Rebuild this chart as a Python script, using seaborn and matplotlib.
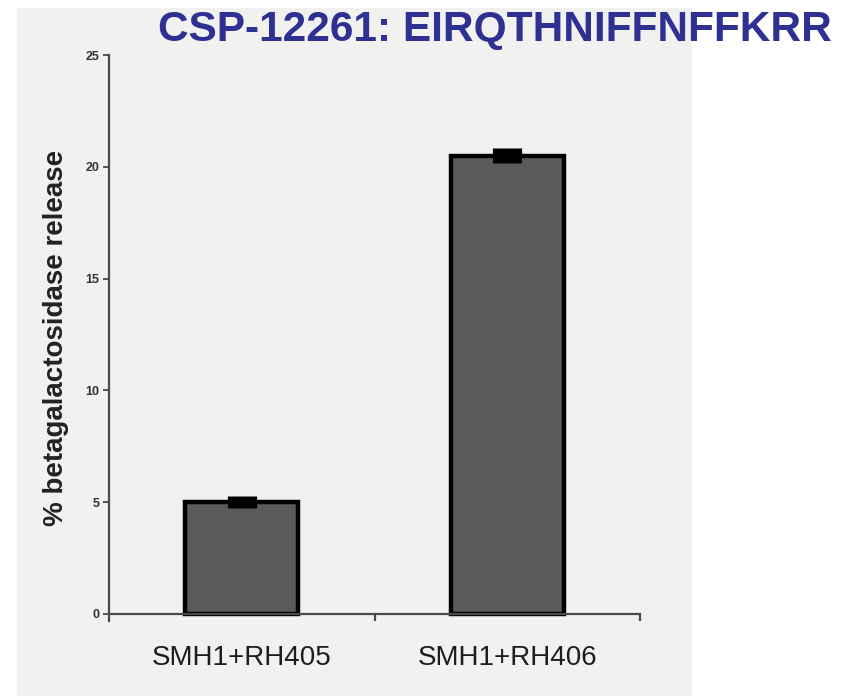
import matplotlib
matplotlib.use("Agg")
import matplotlib.pyplot as plt
import seaborn as sns
import pandas as pd
from matplotlib.patches import Rectangle

categories = ["SMH1+RH405", "SMH1+RH406"]
values = [5.0, 20.5]
errors = [0.28, 0.33]
yticks = [0, 5, 10, 15, 20, 25]

title = "CSP-12261: EIRQTHNIFFNFFKRR"
ylabel = "% betagalactosidase release"

df = pd.DataFrame({"cat": categories, "val": values})

sns.set_theme(style="white")
plt.rcParams["font.family"] = ["Liberation Sans", "DejaVu Sans"]

W, H = 842, 696
fig = plt.figure(figsize=(W / 100, H / 100), dpi=100, facecolor="white")

# scanned gray panel
fig.patches.append(Rectangle((17 / W, 0), (692 - 17) / W, 1 - 8 / H,
                             transform=fig.transFigure, facecolor="#f1f1ef",
                             edgecolor="none", zorder=-5))

ax_left, ax_right = 109, 640
ax_top, ax_bot = 55, 620.7
ax = fig.add_axes([ax_left / W, 1 - ax_bot / H, (ax_right - ax_left) / W, (ax_bot - ax_top) / H])
ax.set_facecolor("none")

sns.barplot(data=df, x="cat", y="val", ax=ax, color="#5a5a5a", edgecolor="black",
            linewidth=3.2, width=0.425, errorbar=None, saturation=1)
ax.errorbar(range(len(categories)), values, yerr=errors, fmt="none",
            ecolor="black", elinewidth=21, capsize=0, zorder=5)

ax.set_xlim(-0.5, 1.5)
ax.set_ylim(-0.3, 25)
ax.set_yticks(yticks)
ax.set_yticklabels([str(t) for t in yticks], fontsize=9, fontweight="bold", color="#333333")

for s in ["top", "right"]:
    ax.spines[s].set_visible(False)
ax.spines["bottom"].set_position(("data", 0))
for s in ["left", "bottom"]:
    ax.spines[s].set_color("#4a4a4a")
    ax.spines[s].set_linewidth(1.6)

ax.tick_params(axis="y", which="major", left=True, length=4, width=1.3, color="#4a4a4a", pad=3)
ax.set_xticks([0, 1])
ax.set_xticklabels(categories, fontsize=20, color="#1e1e1e")
ax.set_xticks([0.5, 1.5], minor=True)
ax.tick_params(axis="x", which="major", bottom=False, length=0, pad=22)
ax.tick_params(axis="x", which="minor", bottom=True, length=5, width=1.6, color="#4a4a4a")

ax.set_xlabel("")
ax.set_ylabel(ylabel, fontsize=20, fontweight="bold", color="#222222", labelpad=12)

t = fig.text(495 / W, 1 - 30 / H, title, ha="center", va="center", fontsize=33,
             fontweight="bold", color="#2e3192",
             family=["Liberation Sans", "DejaVu Sans"])
fig.canvas.draw()
bb = t.get_window_extent()
t.set_fontsize(33 * 675 / bb.width)

fig.savefig("out.png", dpi=100, facecolor="white")
